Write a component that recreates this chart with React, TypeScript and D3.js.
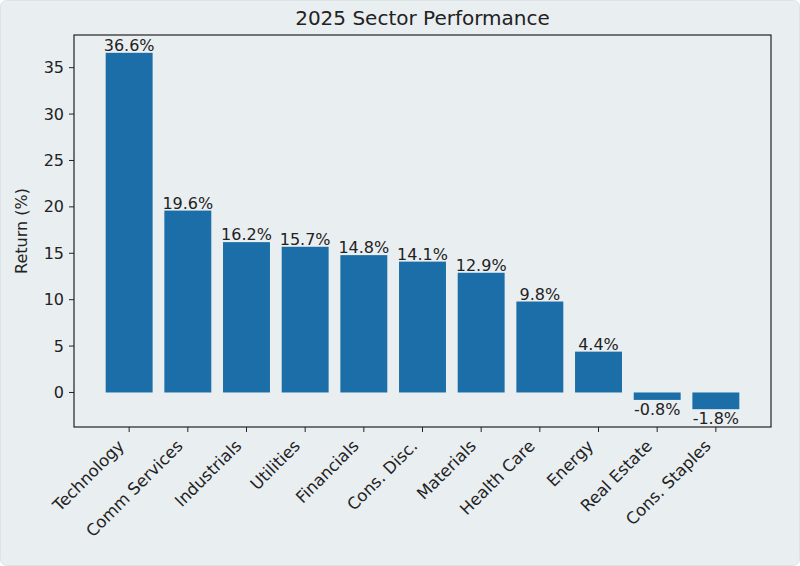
import React, { useEffect, useRef } from 'react';
import * as d3 from 'd3';

const sectors = [
  'Technology', 'Comm Services', 'Industrials', 'Utilities', 'Financials',
  'Cons. Disc.', 'Materials', 'Health Care', 'Energy', 'Real Estate', 'Cons. Staples',
];
const returns = [36.6, 19.6, 16.2, 15.7, 14.8, 14.1, 12.9, 9.8, 4.4, -0.8, -1.8];
const yTicks = [0, 5, 10, 15, 20, 25, 30, 35];

const W = 800;
const H = 566;
const FONT = 'DejaVu Sans, sans-serif';

export default function App() {
  const svgRef = useRef<SVGSVGElement>(null);

  useEffect(() => {
    if (!svgRef.current) return;
    const root = d3.select(svgRef.current);
    root.selectAll('*').remove();

    const margin = { top: 35, right: 29, bottom: 139, left: 74 };
    const iw = W - margin.left - margin.right;
    const ih = H - margin.top - margin.bottom;

    root.append('rect')
      .attr('x', 0.5).attr('y', 0.5)
      .attr('width', W - 1).attr('height', H - 1)
      .attr('rx', 6)
      .attr('fill', '#e9eef1')
      .attr('stroke', '#dde3e7');

    const g = root.append('g').attr('transform', `translate(${margin.left},${margin.top})`);

    // matplotlib style autoscale with 5% margins
    const n = sectors.length;
    const xLo = -0.4, xHi = n - 1 + 0.4;
    const xPad = (xHi - xLo) * 0.05;
    const x = d3.scaleLinear().domain([xLo - xPad, xHi + xPad]).range([0, iw]);

    const yMin = Math.min(0, d3.min(returns) as number);
    const yMax = d3.max(returns) as number;
    const yPad = (yMax - yMin) * 0.05;
    const y = d3.scaleLinear().domain([yMin - yPad, yMax + yPad]).range([ih, 0]);

    const bw = x(0.8) - x(0);

    g.selectAll('.bar')
      .data(returns)
      .enter()
      .append('rect')
      .attr('x', (_: number, i: number) => x(i) - bw / 2)
      .attr('y', (d: number) => y(Math.max(0, d)))
      .attr('width', bw)
      .attr('height', (d: number) => Math.abs(y(d) - y(0)))
      .attr('fill', '#1b6ea8');

    // value labels
    g.selectAll('.val')
      .data(returns)
      .enter()
      .append('text')
      .attr('x', (_: number, i: number) => x(i))
      .attr('y', (d: number) => (d >= 0 ? y(d) - 2 : y(d) + 15))
      .attr('text-anchor', 'middle')
      .style('font-family', FONT)
      .style('font-size', '16px')
      .style('fill', '#222')
      .text((d: number) => `${d.toFixed(1)}%`);

    // frame
    g.append('rect')
      .attr('width', iw).attr('height', ih)
      .attr('fill', 'none')
      .attr('stroke', '#222')
      .attr('stroke-width', 1.2);

    // y axis ticks
    const yt = g.append('g');
    yTicks.forEach((t) => {
      yt.append('line')
        .attr('x1', -5).attr('x2', 0)
        .attr('y1', y(t)).attr('y2', y(t))
        .attr('stroke', '#222');
      yt.append('text')
        .attr('x', -10).attr('y', y(t))
        .attr('dy', '0.35em')
        .attr('text-anchor', 'end')
        .style('font-family', FONT)
        .style('font-size', '16px')
        .style('fill', '#222')
        .text(String(t));
    });

    // x axis ticks + rotated labels
    const xt = g.append('g').attr('transform', `translate(0,${ih})`);
    sectors.forEach((s, i) => {
      xt.append('line')
        .attr('x1', x(i)).attr('x2', x(i))
        .attr('y1', 0).attr('y2', 5)
        .attr('stroke', '#222');
      xt.append('text')
        .attr('transform', `translate(${x(i) - 4},${20}) rotate(-45)`)
        .attr('text-anchor', 'end')
        .style('font-family', FONT)
        .style('font-size', '16.5px')
        .style('fill', '#222')
        .text(s);
    });

    // y label
    g.append('text')
      .attr('transform', `translate(${-47},${ih / 2}) rotate(-90)`)
      .attr('text-anchor', 'middle')
      .style('font-family', FONT)
      .style('font-size', '16px')
      .style('fill', '#222')
      .text('Return (%)');

    // title
    root.append('text')
      .attr('x', margin.left + iw / 2)
      .attr('y', 25)
      .attr('text-anchor', 'middle')
      .style('font-family', FONT)
      .style('font-size', '20px')
      .style('fill', '#222')
      .text('2025 Sector Performance');
  }, []);

  return (
    <svg
      ref={svgRef}
      width={W}
      height={H}
      style={{ position: 'absolute', left: 0, top: 0 }}
    />
  );
}
